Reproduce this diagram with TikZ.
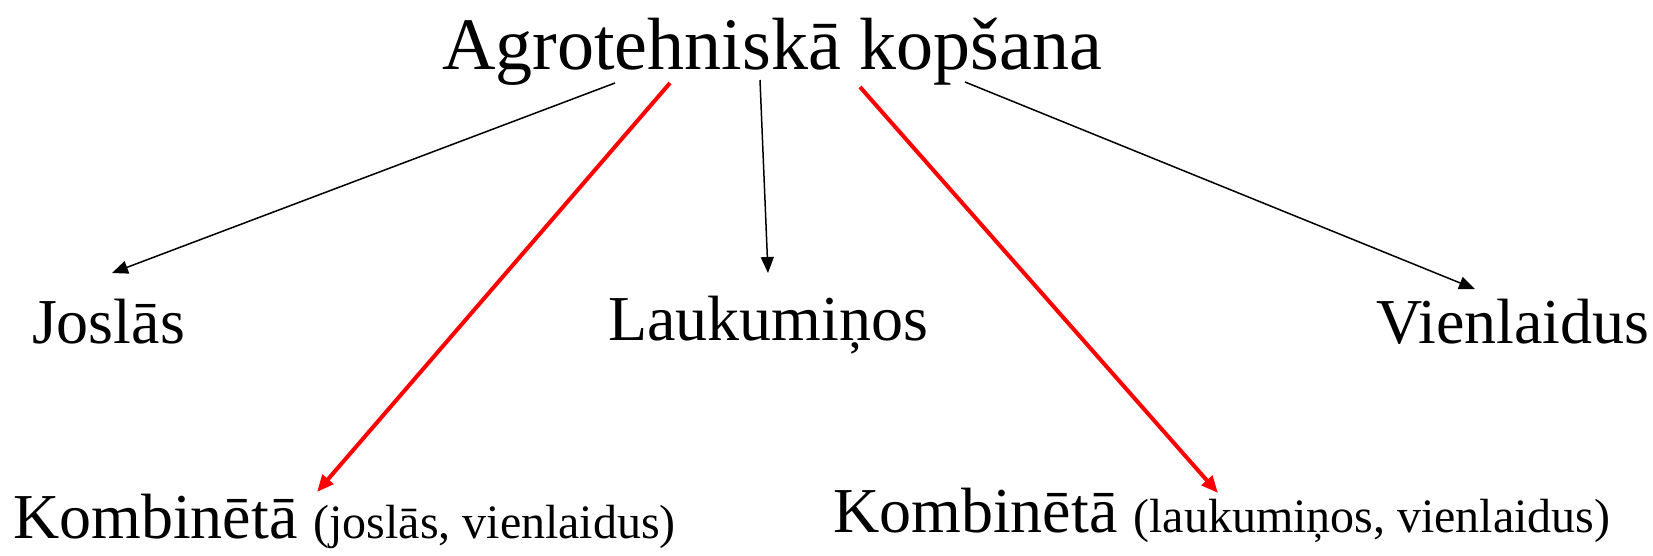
\documentclass[tikz,border=0pt]{standalone}
\usepackage{fontspec}
\setmainfont{Liberation Serif}
\usetikzlibrary{arrows.meta}
\begin{document}
\begin{tikzpicture}[x=1pt,y=-1pt,
  lbl/.style={inner sep=0pt,outer sep=0pt,anchor=base west},
  blk/.style={draw=black,line width=1.5pt,-{Triangle[length=16pt,width=13pt]}},
  redarr/.style={draw=red,line width=4pt,-{Triangle[length=17pt,width=14pt]}}]
\useasboundingbox (0,0) rectangle (1653,555);
\node[lbl,anchor=base] (title) at (772,69) {\fontsize{74}{80}\selectfont Agrotehniskā kopšana};
\node[lbl] (josl) at (32,343) {\fontsize{64}{70}\selectfont Joslās};
\node[lbl] (lauk) at (608,340) {\fontsize{64}{70}\selectfont Laukumiņos};
\node[lbl] (vien) at (1376,343) {\fontsize{64}{70}\selectfont Vienlaidus};
\node[lbl] (komb1) at (13,538) {\fontsize{64}{70}\selectfont Kombinētā \fontsize{48}{52}\selectfont(joslās, vienlaidus)};
\node[lbl] (komb2) at (833,532) {\fontsize{64}{70}\selectfont Kombinētā \fontsize{48}{52}\selectfont(laukumiņos, vienlaidus)};
\coordinate (s1) at (615,83);
\coordinate (s2) at (670,83);
\coordinate (s3) at (760,80);
\coordinate (s4) at (860,87);
\coordinate (s5) at (965,82);
\coordinate (e1) at (112,273);
\coordinate (e2) at (317,492);
\coordinate (e3) at (768,273);
\coordinate (e4) at (1218,493);
\coordinate (e5) at (1475,289);
\draw[blk] (s1) -- (e1);
\draw[redarr] (s2) -- (e2);
\draw[blk] (s3) -- (e3);
\draw[redarr] (s4) -- (e4);
\draw[blk] (s5) -- (e5);
\end{tikzpicture}
\end{document}
